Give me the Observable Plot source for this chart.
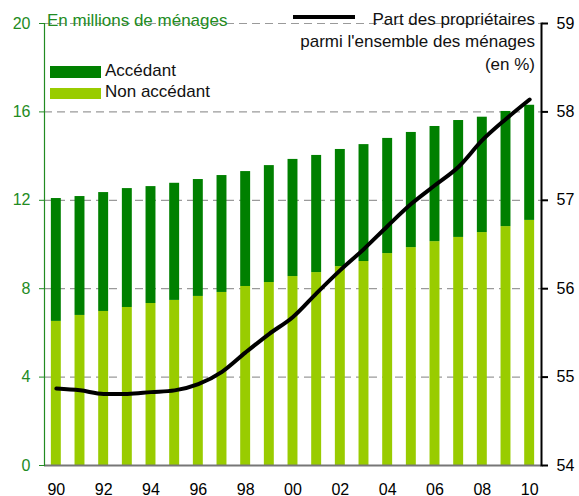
<!DOCTYPE html>
<html>
<head>
<meta charset="utf-8">
<script src="https://cdn.jsdelivr.net/npm/d3@7"></script>
<script src="https://cdn.jsdelivr.net/npm/@observablehq/plot@0.6"></script>
<style>
  body { margin: 0; background: #fff; }
  #wrap { position: relative; width: 579px; height: 496px; overflow: hidden; font-family: "Liberation Sans", Arial, sans-serif; }
  #wrap svg { position: absolute; left: 0; top: 0; }
  .lbl { position: absolute; font-size: 17px; line-height: 17px; white-space: nowrap; color: #111; }
  .sw { position: absolute; }
</style>
</head>
<body>
<div id="wrap">
  <div id="chart"></div>
  <div class="lbl" style="left:47px; top:11.6px; color:#228b22;">En millions de ménages</div>
  <div class="sw" style="left:50px; top:66px; width:51px; height:12px; background:#008000;"></div>
  <div class="lbl" style="left:105px; top:61.6px;">Accédant</div>
  <div class="sw" style="left:50px; top:88px; width:51px; height:11px; background:#99cc00;"></div>
  <div class="lbl" style="left:105px; top:82.6px;">Non accédant</div>
  <div class="sw" style="left:293px; top:15px; width:62px; height:4px; background:#000;"></div>
  <div class="lbl" style="right:44px; top:8.9px; line-height:22.4px; text-align:right;">Part des propriétaires<br>parmi l'ensemble des ménages<br>(en %)</div>
</div>
<script>
const years = [1990,1991,1992,1993,1994,1995,1996,1997,1998,1999,2000,2001,2002,2003,2004,2005,2006,2007,2008,2009,2010];
const nonAccedant = [6.52,6.79,6.97,7.15,7.33,7.47,7.65,7.83,8.10,8.28,8.55,8.73,9.00,9.23,9.59,9.86,10.13,10.32,10.54,10.81,11.09];
const accedant = [5.56,5.38,5.38,5.38,5.29,5.30,5.29,5.29,5.20,5.29,5.30,5.30,5.30,5.29,5.21,5.21,5.21,5.29,5.22,5.21,5.21];
const partProprietaires = [54.87,54.85,54.81,54.81,54.83,54.85,54.92,55.06,55.28,55.49,55.68,55.95,56.21,56.45,56.71,56.96,57.17,57.38,57.68,57.92,58.14];
const xTicks = [1990,1992,1994,1996,1998,2000,2002,2004,2006,2008,2010];
const leftTicks = [0,4,8,12,16,20];
const rightTicks = [54,55,56,57,58,59];
const seriesNames = ["Accédant","Non accédant"];

const green = "#228b22";
// right axis 54..59 mapped onto left 0..20
const toLeft = v => (v - 54) * 4;

const bars = [
  ...years.map((y, i) => ({year: y, series: "Non accédant", value: nonAccedant[i]})),
  ...years.map((y, i) => ({year: y, series: "Accédant", value: accedant[i]}))
];
const line = years.map((y, i) => ({year: y, v: partProprietaires[i]}));

const plot = Plot.plot({
  width: 579,
  height: 496,
  marginLeft: 44,
  marginRight: 38,
  marginTop: 23,
  marginBottom: 31,
  style: {fontFamily: "'Liberation Sans', Arial, sans-serif", fontSize: "16px", background: "transparent"},
  x: {type: "band", domain: years, paddingInner: 0.58, paddingOuter: 0.29, round: false},
  y: {domain: [0, 20]},
  color: {domain: seriesNames, range: ["#008000", "#99cc00"]},
  marks: [
    Plot.ruleY(leftTicks.slice(1), {stroke: "#9a9a9a", strokeDasharray: "8,5", strokeWidth: 1.2}),
    Plot.barY(bars, {x: "year", y: "value", fill: "series", z: "series"}),
    Plot.ruleY([0], {stroke: "#777", strokeWidth: 2}),
    Plot.frame({anchor: "left", stroke: green, strokeWidth: 1.2}),
    Plot.frame({anchor: "right", stroke: "#000", strokeWidth: 2}),
    Plot.line(line, {x: "year", y: d => toLeft(d.v), curve: "monotone-x", stroke: "#000", strokeWidth: 4}),
    Plot.axisY({ticks: leftTicks, tickSize: 5, tickPadding: 9, color: green, fontSize: 16, label: null}),
    Plot.axisY({anchor: "right", ticks: rightTicks.map(toLeft), tickFormat: d => String(54 + d / 4), tickSize: 6, tickPadding: 9, color: "#000", strokeWidth: 2, fontSize: 16, label: null}),
    Plot.axisX({ticks: xTicks, tickFormat: d => String(d).slice(2), tickSize: 0, tickPadding: 18, color: "#000", fontSize: 16, label: null})
  ]
});
document.getElementById("chart").appendChild(plot);
</script>
</body>
</html>
